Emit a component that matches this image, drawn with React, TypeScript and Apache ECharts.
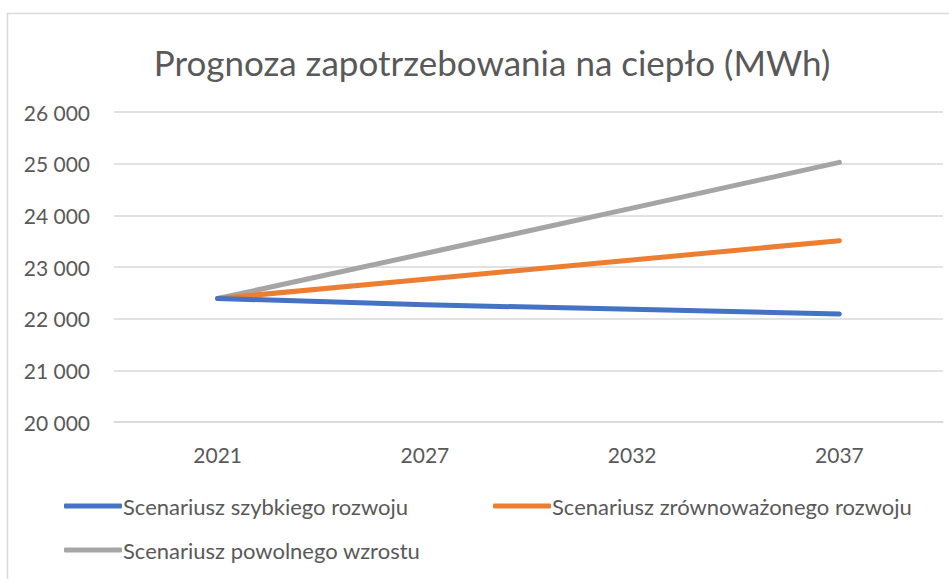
import React, { useEffect, useRef } from "react";
import * as echarts from "echarts";

const titleText = "Prognoza zapotrzebowania na ciepło (MWh)";
const years = ["2021", "2027", "2032", "2037"];
const seriesNames = [
  "Scenariusz szybkiego rozwoju",
  "Scenariusz zrównoważonego rozwoju",
  "Scenariusz powolnego wzrostu",
];
const fastGrowth = [22390, 22270, 22180, 22090];
const sustainableGrowth = [22390, 22765, 23135, 23510];
const slowGrowth = [22390, 23260, 24140, 25025];
const yMin = 20000;
const yMax = 26000;
const yStep = 1000;

const colors = ["#4472C4", "#ED7D31", "#A5A5A5"];
const FONT = "Lato";
const TEXT = "#595959";

export default function App() {
  const ref = useRef<HTMLDivElement>(null);
  useEffect(() => {
    if (!ref.current) return;
    const chart = echarts.init(ref.current, null, { renderer: "svg" });
    const values = [fastGrowth, sustainableGrowth, slowGrowth];
    const legendPos = [
      { left: 64, top: 495 },
      { left: 493, top: 495 },
      { left: 64, top: 539 },
    ];
    chart.setOption({
      animation: false,
      backgroundColor: "#ffffff",
      textStyle: { fontFamily: FONT },
      title: {
        text: titleText,
        left: 487,
        top: 39,
        textAlign: "center",
        textStyle: { fontFamily: FONT, fontSize: 35, fontWeight: "normal", color: TEXT },
      },
      graphic: [
        {
          type: "rect",
          shape: { x: 7.5, y: 13.5, width: 1000, height: 700 },
          style: { fill: "none", stroke: "#D9D9D9", lineWidth: 1.5 },
          silent: true,
          z: -1,
        },
      ],
      legend: seriesNames.map((n, i) => ({
        data: [n],
        left: legendPos[i].left,
        top: legendPos[i].top,
        icon: "roundRect",
        itemWidth: 58,
        itemHeight: 5,
        padding: 0,
        selectedMode: false,
        textStyle: { fontFamily: FONT, fontSize: 22, color: TEXT, padding: [0, 0, 0, -4] },
      })),
      grid: { left: 114, right: 6, top: 112, bottom: 157 },
      xAxis: {
        type: "category",
        data: years,
        boundaryGap: true,
        axisLine: { show: true, lineStyle: { color: "#D9D9D9", width: 1.5 } },
        axisTick: { show: false },
        axisLabel: { color: TEXT, fontFamily: FONT, fontSize: 21, margin: 22 },
      },
      yAxis: {
        type: "value",
        min: yMin,
        max: yMax,
        interval: yStep,
        axisLine: { show: false },
        axisTick: { show: false },
        splitLine: { lineStyle: { color: "#D9D9D9", width: 1.5 } },
        axisLabel: {
          color: TEXT,
          fontFamily: FONT,
          fontSize: 21,
          margin: 24,
          formatter: (v: number) => {
            const s = String(Math.round(v));
            return s.replace(/\B(?=(\d{3})+(?!\d))/g, " ");
          },
        },
      },
      series: seriesNames.map((n, i) => ({
        name: n,
        type: "line",
        data: values[i],
        showSymbol: false,
        symbol: "none",
        lineStyle: { color: colors[i], width: 5, cap: "round", join: "round" },
        itemStyle: { color: colors[i] },
        z: 3 - i,
      })),
    });
    return () => chart.dispose();
  }, []);
  return (
    <div
      ref={ref}
      style={{ position: "fixed", left: 0, top: 0, width: 949, height: 579 }}
    />
  );
}
